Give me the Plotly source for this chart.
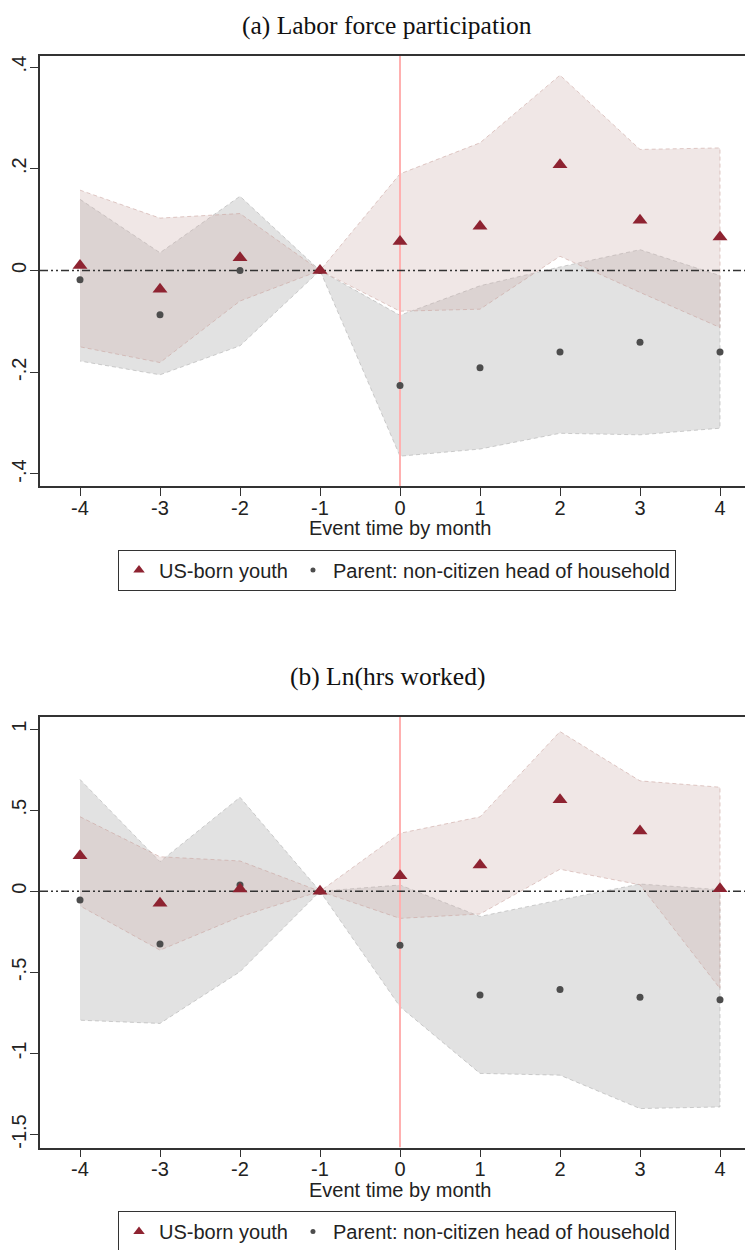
import plotly.graph_objects as go

# ---------------- data ----------------
months = [-4, -3, -2, -1, 0, 1, 2, 3, 4]

# (a) Labor force participation
lfp_youth    = [0.010, -0.037, 0.025, 0.0, 0.057, 0.087, 0.208, 0.099, 0.066]
lfp_youth_hi = [0.158, 0.103, 0.112, 0.0, 0.190, 0.251, 0.384, 0.238, 0.241]
lfp_youth_lo = [-0.150, -0.181, -0.060, 0.0, -0.080, -0.076, 0.028, -0.043, -0.112]
lfp_parent    = [-0.018, -0.087, 0.000, 0.0, -0.226, -0.191, -0.160, -0.141, -0.160]
lfp_parent_hi = [0.140, 0.035, 0.146, 0.0, -0.088, -0.030, 0.007, 0.041, -0.010]
lfp_parent_lo = [-0.178, -0.205, -0.148, 0.0, -0.365, -0.351, -0.320, -0.323, -0.310]

# (b) Ln(hrs worked)
hrs_youth    = [0.220, -0.074, 0.014, 0.0, 0.096, 0.162, 0.565, 0.372, 0.016]
hrs_youth_hi = [0.460, 0.213, 0.187, 0.0, 0.358, 0.459, 0.985, 0.681, 0.642]
hrs_youth_lo = [-0.090, -0.363, -0.157, 0.0, -0.167, -0.140, 0.136, 0.040, -0.600]
hrs_parent    = [-0.054, -0.325, 0.039, 0.0, -0.333, -0.640, -0.605, -0.654, -0.669]
hrs_parent_hi = [0.690, 0.183, 0.580, 0.0, 0.039, -0.155, -0.053, 0.045, 0.010]
hrs_parent_lo = [-0.795, -0.815, -0.496, 0.0, -0.712, -1.123, -1.134, -1.340, -1.330]

x_ticks = [-4, -3, -2, -1, 0, 1, 2, 3, 4]
x_labels = ["-4", "-3", "-2", "-1", "0", "1", "2", "3", "4"]
y1_ticks = [-0.4, -0.2, 0, 0.2, 0.4]
y1_labels = ["-.4", "-.2", "0", ".2", ".4"]
y2_ticks = [-1.5, -1, -0.5, 0, 0.5, 1]
y2_labels = ["-1.5", "-1", "-.5", "0", ".5", "1"]

x_range = [-4.5, 4.5]
y1_range = [-0.4236, 0.4217]
y2_range = [-1.580, 1.078]

name_youth = "US-born youth"
name_parent = "Parent: non-citizen head of household"
title_a = "(a) Labor force participation"
title_b = "(b) Ln(hrs worked)"
x_title = "Event time by month"

# ---------------- style ----------------
W, H = 753, 1250
OX, OY = 8, 8          # page body margin offset
SANS = "Liberation Sans, Arial, sans-serif"
SERIF = "Liberation Serif, Times New Roman, serif"
RED = "#8e2331"
DOT = "#4d4d4d"
PINK_FILL = "rgba(207,178,174,0.31)"
PINK_EDGE = "rgba(200,160,155,0.55)"
GRAY_FILL = "rgba(190,190,190,0.45)"
GRAY_EDGE = "rgba(170,170,170,0.55)"
AXC = "#333333"


def px(x):
    return (x - OX) / W


def py(y):
    return 1 - (y - OY) / H


fig = go.Figure()


def band(xa, ya, lo, hi, fill, edge):
    fig.add_trace(go.Scatter(
        x=months + months[::-1], y=hi + lo[::-1],
        xaxis=xa, yaxis=ya, mode="lines", fill="toself",
        fillcolor=fill, line=dict(color=edge, width=1, dash="4px,3px"),
        hoverinfo="skip", showlegend=False))


def panel(xa, ya, yr, youth, ylo, yhi, parent, plo, phi, legend):
    band(xa, ya, plo, phi, GRAY_FILL, GRAY_EDGE)
    band(xa, ya, ylo, yhi, PINK_FILL, PINK_EDGE)
    # reference lines
    fig.add_trace(go.Scatter(x=[0, 0], y=yr, xaxis=xa, yaxis=ya, mode="lines",
                             line=dict(color="#ffb0b0", width=2),
                             hoverinfo="skip", showlegend=False))
    fig.add_trace(go.Scatter(x=x_range, y=[0, 0], xaxis=xa, yaxis=ya, mode="lines",
                             line=dict(color="#333333", width=1.6,
                                       dash="8px,3px,2px,3px,2px,3px"),
                             hoverinfo="skip", showlegend=False))
    # points
    fig.add_trace(go.Scatter(x=months, y=parent, xaxis=xa, yaxis=ya, mode="markers",
                             marker=dict(symbol="circle", size=7, color=DOT),
                             showlegend=False))
    fig.add_trace(go.Scatter(x=months, y=youth, xaxis=xa, yaxis=ya, mode="markers",
                             marker=dict(symbol="triangle-up", size=13, color=RED),
                             showlegend=False))
    # legend entries
    fig.add_trace(go.Scatter(x=[None], y=[None], xaxis=xa, yaxis=ya, mode="markers",
                             name=name_youth, legend=legend,
                             marker=dict(symbol="triangle-up", size=10, color=RED)))
    fig.add_trace(go.Scatter(x=[None], y=[None], xaxis=xa, yaxis=ya, mode="markers",
                             name=name_parent, legend=legend,
                             marker=dict(symbol="circle", size=5, color=DOT)))


panel("x", "y", y1_range, lfp_youth, lfp_youth_lo, lfp_youth_hi,
      lfp_parent, lfp_parent_lo, lfp_parent_hi, "legend")
panel("x2", "y2", y2_range, hrs_youth, hrs_youth_lo, hrs_youth_hi,
      hrs_parent, hrs_parent_lo, hrs_parent_hi, "legend2")

xdom = [px(40), px(40 + 80 * (x_range[1] - x_range[0]))]
y1dom = [py(486), py(56)]
y2dom = [py(1147.5), py(716.5)]

xax = dict(range=x_range, domain=xdom, tickmode="array", tickvals=x_ticks,
           ticktext=x_labels,
           ticks="outside", ticklen=8, tickwidth=1.3, tickcolor=AXC,
           showline=True, linecolor=AXC, linewidth=1.5, mirror=True,
           showgrid=False, zeroline=False, automargin=False,
           ticklabelstandoff=-5,
           tickfont=dict(family=SANS, size=20, color="#222"))
yax = dict(tickmode="array", ticks="outside", ticklen=8, tickwidth=1.3, tickcolor=AXC,
           showline=True, linecolor=AXC, linewidth=1.5, mirror=False,
           showgrid=False, zeroline=False, automargin=False, tickangle=-90,
           ticklabelstandoff=-4,
           tickfont=dict(family=SANS, size=20, color="#222"))

leg = dict(orientation="h", xanchor="center", yanchor="middle", x=px(397),
           bordercolor=AXC, borderwidth=1, bgcolor="white",
           font=dict(family=SANS, size=20, color="#222"), itemwidth=30)

fig.update_layout(
    width=W, height=H, margin=dict(l=0, r=0, t=0, b=0),
    paper_bgcolor="white", plot_bgcolor="white",
    xaxis=dict(xax, anchor="y"),
    yaxis=dict(yax, domain=y1dom, range=y1_range, tickvals=y1_ticks,
               ticktext=y1_labels, anchor="x"),
    xaxis2=dict(xax, anchor="y2"),
    yaxis2=dict(yax, domain=y2dom, range=y2_range, tickvals=y2_ticks,
                ticktext=y2_labels, anchor="x2"),
    legend=dict(leg, y=py(570)),
    legend2=dict(leg, y=py(1231.5)),
    annotations=[
        dict(text=title_a, x=px(387), y=py(9), xref="paper", yref="paper",
             showarrow=False, xanchor="center", yanchor="top",
             font=dict(family=SERIF, size=25.5, color="#111")),
        dict(text=title_b, x=px(387), y=py(676), xref="paper", yref="paper",
             showarrow=False, xanchor="center", yanchor="middle",
             font=dict(family=SERIF, size=25.5, color="#111")),
        dict(text=x_title, x=px(400), y=py(528), xref="paper", yref="paper",
             showarrow=False, xanchor="center", yanchor="middle",
             font=dict(family=SANS, size=20, color="#222")),
        dict(text=x_title, x=px(400), y=py(1190), xref="paper", yref="paper",
             showarrow=False, xanchor="center", yanchor="middle",
             font=dict(family=SANS, size=20, color="#222")),
    ],
)

fig.write_html("out.html")
